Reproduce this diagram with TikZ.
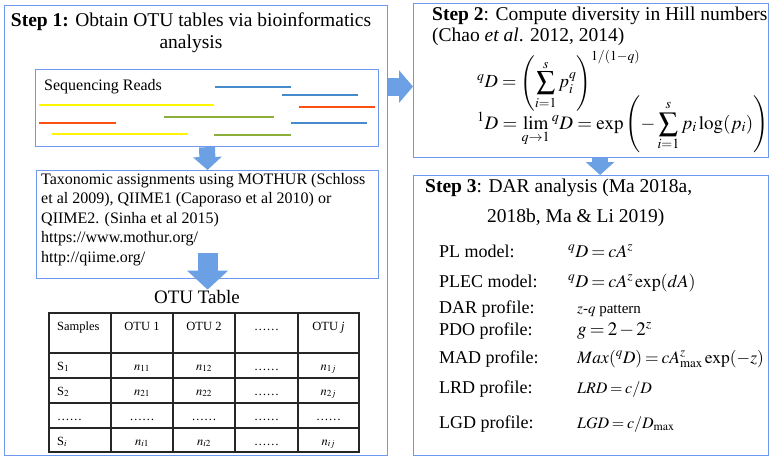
\documentclass[tikz,border=0pt]{standalone}
\usepackage{amsmath}
\usepackage{mathptmx}
\usepackage[no-math]{fontspec}
\setmainfont{Liberation Serif}
\usetikzlibrary{arrows.meta,positioning,calc}
\tikzset{>=latex}
\definecolor{boxblue}{RGB}{112,152,238}
\definecolor{arrowblue}{RGB}{108,160,228}
\definecolor{readblue}{RGB}{70,140,205}
\definecolor{readyellow}{RGB}{255,245,0}
\definecolor{readorange}{RGB}{255,80,20}
\definecolor{readgreen}{RGB}{140,175,60}
\tikzset{
  stepbox/.style={draw=boxblue,line width=1.2pt,inner sep=0pt,anchor=north west},
  bigarrow/.style={arrowblue,line width=18pt,-{Triangle[width=32pt,length=14pt]}},
  smallarrow/.style={arrowblue,line width=16pt,-{Triangle[width=28pt,length=13pt]}},
  read/.style={line width=2pt},
  tableline/.style={line width=1.2pt,black!85},
  cell/.style={inner sep=0pt,font=\fontsize{12.5}{14}\selectfont},
  rowlabel/.style={anchor=base west,inner sep=0pt,font=\fontsize{18}{20}\selectfont},
  tighteq/.style={anchor=base west,inner sep=0pt,execute at begin node={\thickmuskip=3mu\medmuskip=2mu}},
}

\begin{document}
\begin{tikzpicture}[x=1pt,y=-1pt]
\useasboundingbox (0,0) rectangle (772,460);

\node[stepbox,minimum width=383pt,minimum height=450pt] (step1) at (4,5) {};
\node[align=center,inner sep=0pt,anchor=base,font=\fontsize{19.5}{22}\selectfont] (title1) at (191,49) {\textbf{Step 1:} Obtain OTU tables via bioinformatics\\analysis};

\node[stepbox,minimum width=343pt,minimum height=77pt] (seq) at (35,69) {};
\node[anchor=base west,inner sep=0pt,font=\fontsize{16}{18}\selectfont] (seqlabel) at (44,91) {Sequencing Reads};
\foreach \xa/\xb/\yy/\col in {215/291/87/readblue, 282/358/95/readblue, 39/214/105/readyellow,
  299/375/107/readorange, 164/274/117/readgreen, 39/116/123/readorange, 291/367/123/readblue,
  52/188/134/readyellow, 214/291/135/readgreen}
  \draw[read,\col] (\xa,\yy) -- (\xb,\yy);

\node[stepbox,minimum width=342pt,minimum height=108pt] (tax) at (36,170) {};
\node[anchor=north west,align=left,inner sep=0pt,font=\fontsize{16}{19.5}\selectfont] (taxtext) at (41,173) {Taxonomic assignments using MOTHUR (Schloss\\et al 2009), QIIME1 (Caporaso et al 2010) or\\QIIME2. (Sinha et al 2015)\\https://www.mothur.org/\\http://qiime.org/};

\node[anchor=base,inner sep=0pt,font=\fontsize{19}{22}\selectfont] (otutitle) at (197,303) {OTU Table};

\draw[tableline] (49,313) rectangle (359,452);
\foreach \yy in {353,378,403,428}
  \draw[tableline] (49,\yy) -- (359,\yy);
\foreach \xx in {111,173,235,298}
  \draw[tableline] (\xx,313) -- (\xx,452);
\foreach \r/\yb/\ca/\cb/\cc/\cd/\ce in {
  0/330/Samples/OTU 1/OTU 2/……/{OTU \textit{j}},
  1/370/S$_1$/$n_{11}$/$n_{12}$/……/$n_{1j}$,
  2/395/S$_2$/$n_{21}$/$n_{22}$/……/$n_{2j}$,
  3/420/……/……/……/……/……,
  4/445/S$_i$/$n_{i1}$/$n_{i2}$/……/$n_{ij}$}{
  \node[cell,anchor=base west] (cell-\r-1) at (57,\yb) {\ca};
  \node[cell,anchor=base] (cell-\r-2) at (142,\yb) {\cb};
  \node[cell,anchor=base] (cell-\r-3) at (204,\yb) {\cc};
  \node[cell,anchor=base] (cell-\r-4) at (266.5,\yb) {\cd};
  \node[cell,anchor=base] (cell-\r-5) at (328.5,\yb) {\ce};
}

\node[stepbox,minimum width=355pt,minimum height=154pt] (step2) at (413,3) {};
\node[anchor=base west,align=left,inner sep=0pt,font=\fontsize{19.5}{21}\selectfont] (title2) at (432,42) {\textbf{Step 2}: Compute diversity in Hill numbers\\(Chao \textit{et al}. 2012, 2014)};
\node[anchor=base west,inner sep=0pt,font=\fontsize{18.5}{22}\selectfont] (hill1) at (477,88) {$\displaystyle {}^{q}D = \left(\sum_{i=1}^{s} p_i^{q}\right)^{1/(1-q)}$};
\node[anchor=base west,inner sep=0pt,font=\fontsize{19}{22}\selectfont] (hill2) at (477,129) {$\displaystyle {}^{1}D = \lim_{q\to 1}{}^{q}D = \exp\left(-\sum_{i=1}^{s} p_i\log(p_i)\right)$};

\node[stepbox,minimum width=355pt,minimum height=280pt] (step3) at (413,175) {};
\node[anchor=base west,align=left,inner sep=0pt,font=\fontsize{19.5}{29}\selectfont] (title3) at (425,222) {\textbf{Step 3}: DAR analysis (Ma 2018a,\\\hspace*{62pt}2018b, Ma \& Li 2019)};
\foreach \n/\lab/\xf/\yb/\fs/\eq in {
  pl/PL model:/568/257/18/{${}^{q}D = cA^{z}$},
  plec/PLEC model:/568/287/18/{${}^{q}D = cA^{z}\exp(dA)$},
  dar/DAR profile:/577/313/15/{$z$-$q$ pattern},
  pdo/PDO profile:/577/335/19/{$g = 2-2^{z}$},
  mad/MAD profile:/577/363/17.5/{$Max({}^{q}D) = cA^{z}_{\max}\exp(-z)$},
  lrd/LRD profile:/577/393/16/{$LRD = c/D$},
  lgd/LGD profile:/577/428/16/{$LGD = c/D_{\max}$}}{
  \node[rowlabel] (\n-label) at (439,\yb) {\lab};
  \node[tighteq,font=\fontsize{\fs}{20}\selectfont] (\n-eq) at (\xf,\yb) {\eq};
}

\begin{scope}
\draw[smallarrow] (seq.south) -- (tax.north);
\draw[bigarrow,line width=20pt,-{Triangle[width=40pt,length=19pt]}] ([yshift=26pt]tax.south) -- (tax.south |- otutitle.north);
\draw[bigarrow] ([yshift=-6pt]step2.west -| step1.east) -- ([yshift=-6pt]step2.west);
\draw[smallarrow] ([xshift=9pt]step2.south) -- ([xshift=9pt]step3.north);
\end{scope}

\end{tikzpicture}
\end{document}
